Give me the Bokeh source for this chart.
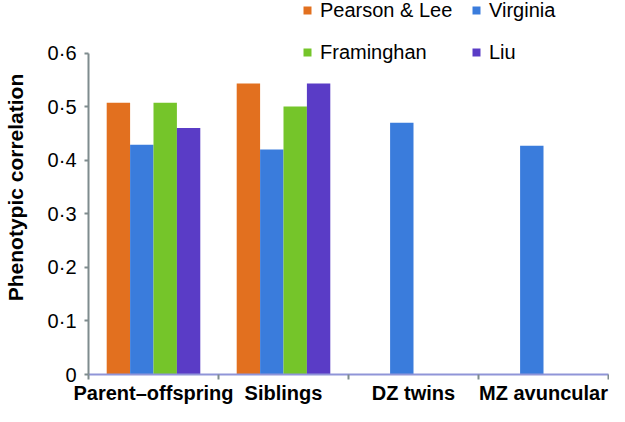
import numpy as np
from bokeh.plotting import figure
from bokeh.models import (ColumnDataSource, Range1d, FixedTicker, CustomJSTickFormatter,
                          Legend, LegendItem)
from bokeh.transform import dodge
from bokeh.embed import file_html
from bokeh.resources import INLINE

# ---- data ----
categories = ["Parent\u2013offspring", "Siblings", "DZ twins", "MZ avuncular"]
series_names = ["Pearson & Lee", "Virginia", "Framinghan", "Liu"]
pearson_lee = [0.507, 0.543, np.nan, np.nan]
virginia = [0.429, 0.420, 0.470, 0.427]
framinghan = [0.507, 0.500, np.nan, np.nan]
liu = [0.460, 0.543, np.nan, np.nan]
series_values = [pearson_lee, virginia, framinghan, liu]
series_colors = ["#E2701F", "#3A7CDC", "#75C52A", "#5A3CC6"]

y_ticks = [0, 0.1, 0.2, 0.3, 0.4, 0.5, 0.6]
y_tick_labels = ["0", "0\u00b71", "0\u00b72", "0\u00b73", "0\u00b74", "0\u00b75", "0\u00b76"]

FONT = "Liberation Sans"

n = len(categories)
centers = [i + 0.5 for i in range(n)]
boundaries = [float(i) for i in range(n + 1)]

LOOKUP = """
    for (let i = 0; i < tvals.length; i++) {
        if (Math.abs(tvals[i] - tick) < 1e-9) return tlabels[i];
    }
    return '';
"""

p = figure(width=609, height=406, output_backend="svg", toolbar_location=None,
           x_range=Range1d(0, n), y_range=Range1d(0, 0.698),
           min_border_left=88, min_border_right=1, min_border_top=0, min_border_bottom=0)
p.outline_line_color = None
p.xgrid.grid_line_color = None
p.ygrid.grid_line_color = None
p.background_fill_color = "white"
p.border_fill_color = "white"

bar_w = 0.18
offsets = [-0.27, -0.09, 0.09, 0.27]
items = []
for name, vals, col, off in zip(series_names, series_values, series_colors, offsets):
    src = ColumnDataSource(dict(x=centers, top=vals))
    r = p.vbar(x=dodge("x", off, range=p.x_range), top="top", bottom=0, width=bar_w,
               source=src, fill_color=col, line_color=None)
    items.append(LegendItem(label=name, renderers=[r]))

# ---- y axis ----
yax = p.yaxis[0]
yax.bounds = (y_ticks[0], y_ticks[-1])
yax.ticker = FixedTicker(ticks=y_ticks)
yax.formatter = CustomJSTickFormatter(args=dict(tvals=y_ticks, tlabels=y_tick_labels), code=LOOKUP)
yax.axis_label = "Phenotypic correlation"
yax.axis_label_text_font = FONT
yax.axis_label_text_font_style = "bold"
yax.axis_label_text_font_size = "21px"
yax.axis_label_text_color = "black"
yax.axis_label_standoff = 18
yax.major_label_text_font = FONT
yax.major_label_text_font_size = "20px"
yax.major_label_text_color = "black"
yax.major_label_standoff = 8
yax.axis_line_color = "#7F8C8E"
yax.axis_line_width = 2
yax.major_tick_line_color = "#7F8C8E"
yax.major_tick_line_width = 2
yax.major_tick_out = 4
yax.major_tick_in = 0
yax.minor_tick_line_color = None

# ---- x axis ----
xax = p.xaxis[0]
xax.ticker = FixedTicker(ticks=centers, minor_ticks=boundaries)
xax.formatter = CustomJSTickFormatter(args=dict(tvals=centers, tlabels=categories), code=LOOKUP)
xax.major_label_text_font = FONT
xax.major_label_text_font_style = "bold"
xax.major_label_text_font_size = "20px"
xax.major_label_text_color = "black"
xax.major_label_standoff = 2
xax.major_tick_out = 0
xax.major_tick_in = 0
xax.major_tick_line_color = None
xax.minor_tick_line_color = "#7F8C8E"
xax.minor_tick_line_width = 2
xax.minor_tick_out = 5
xax.minor_tick_in = 0
xax.axis_line_color = "#9095D8"
xax.axis_line_width = 2

# ---- legend ----
legend = Legend(items=items, location=(214, 310), orientation="horizontal", ncols=2,
                glyph_width=10, glyph_height=10, label_standoff=8,
                label_width=133, label_height=24, spacing=18, padding=0, margin=0,
                label_text_font=FONT, label_text_font_size="20px", label_text_color="black",
                background_fill_alpha=0, border_line_color=None)
p.add_layout(legend, "center")

open("out.html", "w").write(file_html(p, INLINE))
